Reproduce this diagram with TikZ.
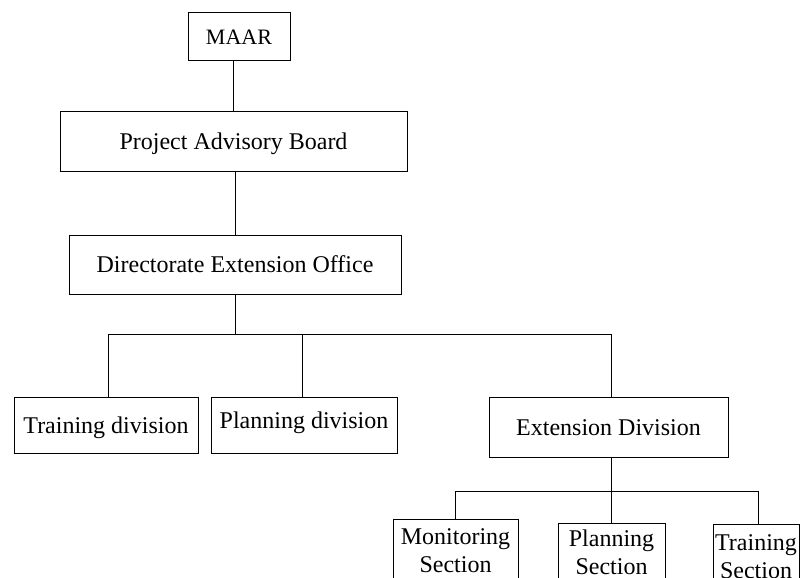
\documentclass[tikz,border=0pt]{standalone}
\usepackage{fontspec}
\setmainfont{Liberation Serif}
\begin{document}
\begin{tikzpicture}[x=1pt,y=-1pt,
  box/.style={draw, line width=1pt, inner sep=0pt, align=center,
    font=\fontsize{24}{28}\selectfont, text height=16, text depth=0},
  twoline/.style={draw, line width=1pt, inner sep=0pt, align=center,
    font=\fontsize{24}{28}\selectfont},
  link/.style={line width=1pt}]
\useasboundingbox (0,0) rectangle (801,578);
\clip (0,0) rectangle (801,578);

% boxes
\node[box, minimum width=102, minimum height=48,
      font=\fontsize{22}{26}\selectfont] (maar) at (239,37) {MAAR};
\node[box, minimum width=347, minimum height=60] (pab) at (233.5,141.5) {Project Advisory Board};
\node[box, minimum width=332, minimum height=59] (deo) at (235,264.5) {Directorate Extension Office};
\node[box, minimum width=184, minimum height=56] (td) at (106,425) {Training division};
\node[box, minimum width=186, minimum height=56, text height=12, text depth=6] (pd) at (304,425) {Planning division};
\node[box, minimum width=239, minimum height=60] (ed) at (608.5,427) {Extension Division};
\node[twoline, minimum width=125, minimum height=64] (ms) at (455.5,551) {Monitoring\\Section};
\node[twoline, minimum width=107, minimum height=58] (ps) at (611.5,552) {Planning\\Section};
\node[twoline, minimum width=86, minimum height=66] (ts) at (756,557) {Training\\Section};

% attachment points
\coordinate (bus1) at (235,334);
\coordinate (bus2) at (611,491);
\coordinate (tdt) at ([xshift=2pt]td.north);
\coordinate (pdt) at ([xshift=-2pt]pd.north);
\coordinate (edt) at ([xshift=2.5pt]ed.north);
\coordinate (edb) at ([xshift=2.5pt]ed.south);
\coordinate (mst) at (ms.north);
\coordinate (tst) at ([xshift=2pt]ts.north);

% connectors
\draw[link] (pab.north) -- (pab.north |- maar.south);
\draw[link] (deo.north) -- (deo.north |- pab.south);
\draw[link] (deo.south) -- (bus1);
\draw[link] (tdt) -- (tdt |- bus1) -- (edt |- bus1) -- (edt);
\draw[link] (pdt) -- (pdt |- bus1);
\draw[link] (edb) -- (edb |- ps.north);
\draw[link] (mst) -- (mst |- bus2) -- (tst |- bus2) -- (tst);
\end{tikzpicture}
\end{document}
